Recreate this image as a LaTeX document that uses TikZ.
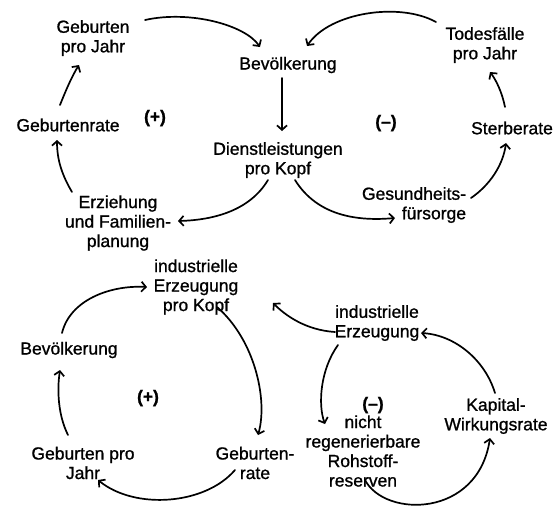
\documentclass[tikz,border=0pt]{standalone}
\usepackage{fontspec}
\setmainfont{Liberation Sans}[FakeBold=1.0]
\usetikzlibrary{arrows.meta}
\begin{document}
\begin{tikzpicture}[x=1pt,y=-1pt,
  lbl/.style={align=center,inner sep=0pt,font=\fontsize{17.5}{19.5}\selectfont},
  sgn/.style={inner sep=0pt,font=\fontsize{17.5}{19.5}\selectfont\bfseries},
  conn/.style={line width=1.7pt,line cap=round,-{Straight Barb[length=4.5pt,width=10pt]}}]
\useasboundingbox[fill=white] (0,0) rectangle (558,507);
% ---------- top loop ----------
\node[lbl] (gpj) at (93,38) {Geburten\\pro Jahr};
\node[lbl] (bev) at (288,65) {Bevölkerung};
\node[lbl] (tod) at (485,45) {Todesfälle\\pro Jahr};
\node[lbl] (gr) at (68,125) {Geburtenrate};
\node[sgn] (plusA) at (155,118) {(+)};
\node[sgn] (minusA) at (386,123) {(–)};
\node[lbl] (ster) at (512,128) {Sterberate};
\node[lbl] (dl) at (278,160) {Dienstleistungen\\pro Kopf};
\node[lbl,align=right] (ges) at (414,205) {Gesundheits-\\fürsorge};
\node[lbl] (erz) at (118,223) {Erziehung\\und Familien-\\planung};

\draw[conn] ([shift={(52,-18)}]gpj.center) .. controls +(45,-10) and +(-15,-22) .. ([shift={(-28,-18)}]bev.center);
\draw[conn] ([shift={(-49,-23)}]tod.center) .. controls +(-36,-20) and +(23,-34) .. ([shift={(19,-19)}]bev.center);
\draw[conn] ([shift={(-6,13)}]bev.center) -- ([shift={(4,-29)}]dl.center);
\draw[conn] ([shift={(-10,20)}]dl.center) .. controls +(-18,30) and +(37,-1) .. ([shift={(60,-2)}]erz.center);
\draw[conn] ([shift={(17,20)}]dl.center) .. controls +(20,32) and +(-45,4) .. ([shift={(-19,13)}]ges.center);
\draw[conn] ([shift={(57,-7)}]ges.center) .. controls +(19,-13) and +(-3,22) .. ([shift={(-6,15)}]ster.center);
\draw[conn] ([shift={(-7,-21)}]ster.center) .. controls +(-3,-15) and +(6,8) .. ([shift={(5,27)}]tod.center);
\draw[conn] ([shift={(-46,-31)}]erz.center) .. controls +(-10,-17) and +(0,20) .. ([shift={(-11,15)}]gr.center);
\draw[conn] ([shift={(-8,-20)}]gr.center) .. controls +(6,-15) and +(-7,11) .. ([shift={(-14,27)}]gpj.center);

% ---------- bottom loops ----------
\node[lbl] (iek) at (196,287) {industrielle\\Erzeugung\\pro Kopf};
\node[lbl] (bevB) at (69,350) {Bevölkerung};
\node[sgn] (plusB) at (148,398) {(+)};
\node[lbl] (gpjB) at (83,463) {Geburten pro\\Jahr};
\node[lbl] (grB) at (255,463) {Geburten-\\rate};
\node[lbl] (ie) at (377,323) {industrielle\\Erzeugung};
\node[sgn] (minusB) at (373,405) {(–)};
\node[lbl] (roh) at (363,451) {nicht\\regenerierbare\\Rohstoff-\\reserven};
\node[lbl] (kap) at (496,416) {Kapital-\\Wirkungsrate};

\draw[conn] ([shift={(-7,-17)}]bevB.center) .. controls +(8,-33) and +(-37,-2) .. ([shift={(-49,0)}]iek.center);
\draw[conn] ([shift={(21,20)}]iek.center) .. controls +(38,33) and +(10,-35) .. ([shift={(3,-28)}]grB.center);
\draw[conn] ([shift={(-20,7)}]grB.center) .. controls +(-30,35) and +(37,30) .. ([shift={(15,17)}]gpjB.center);
\draw[conn] ([shift={(-15,-28)}]gpjB.center) .. controls +(-10,-20) and +(-3,20) .. ([shift={(-9,20)}]bevB.center);
\draw[conn] ([shift={(-42,9)}]ie.center) .. controls +(-30,-2) and +(12,12) .. ([shift={(77,16)}]iek.center);
\draw[conn] ([shift={(-39,22)}]ie.center) .. controls +(-18,25) and +(-7,-19) .. ([shift={(-38,-27)}]roh.center);
\draw[conn] ([shift={(2,29)}]roh.center) .. controls +(20,38) and +(-12,80) .. ([shift={(-6,22)}]kap.center);
\draw[conn] ([shift={(-1,-23)}]kap.center) .. controls +(-10,-33) and +(34,2) .. ([shift={(44,10)}]ie.center);
\end{tikzpicture}
\end{document}
